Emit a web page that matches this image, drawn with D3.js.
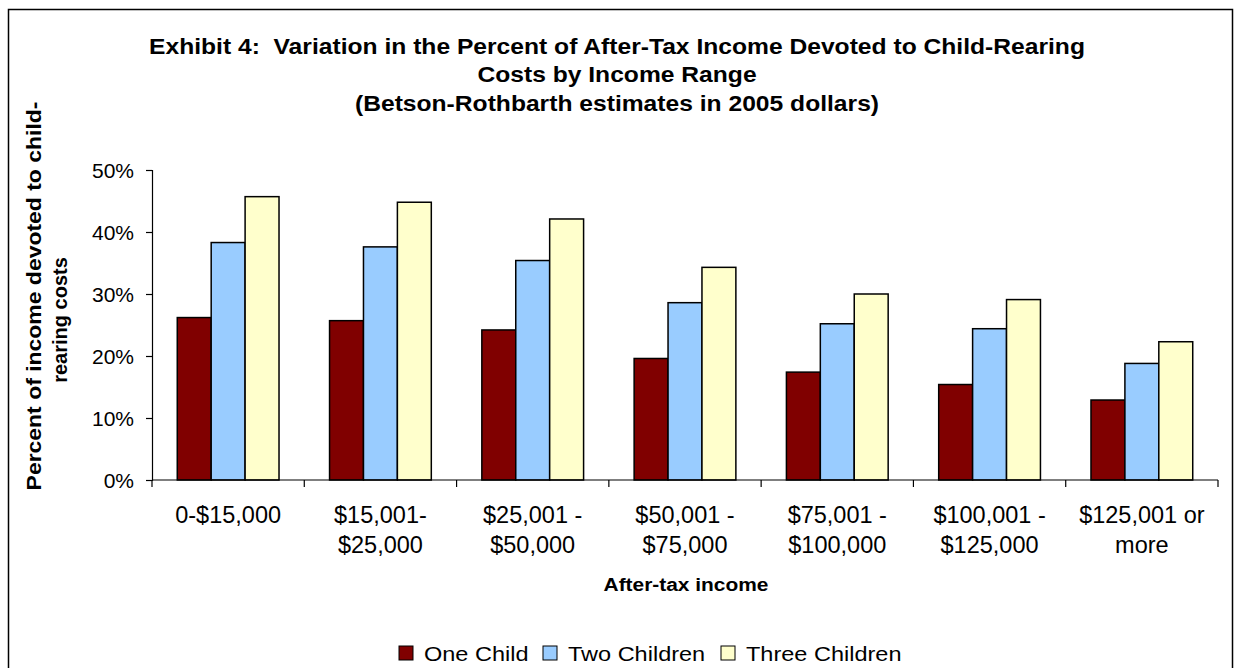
<!DOCTYPE html>
<html>
<head>
<meta charset="utf-8">
<script src="https://cdn.jsdelivr.net/npm/d3@7"></script>
<style>
  body { margin: 0; background: #fff; }
  text { font-family: Arial, "Liberation Sans", sans-serif; fill: #000; white-space: pre; }
</style>
</head>
<body>
<script>
// income ranges (line breaks as in the original axis)
var categories = [
  ["0-$15,000"],
  ["$15,001-", "$25,000"],
  ["$25,001 -", "$50,000"],
  ["$50,001 -", "$75,000"],
  ["$75,001 -", "$100,000"],
  ["$100,001 -", "$125,000"],
  ["$125,001 or", "more"]
];
var seriesNames = ["One Child", "Two Children", "Three Children"];
var seriesColors = ["#800000", "#99CCFF", "#FFFFCC"];

// percent of after-tax income
var oneChild = [26.2, 25.7, 24.2, 19.6, 17.4, 15.4, 12.9];
var twoChildren = [38.3, 37.6, 35.4, 28.6, 25.2, 24.4, 18.8];
var threeChildren = [45.7, 44.8, 42.1, 34.3, 30.0, 29.1, 22.3];
var yTicks = [0, 10, 20, 30, 40, 50];

var titleLines = [
  "Exhibit 4:  Variation in the Percent of After-Tax Income Devoted to Child-Rearing",
  "Costs by Income Range",
  "(Betson-Rothbarth estimates in 2005 dollars)"
];

var width = 1235;
var height = 668;
var margin = {top: 170, left: 152, right: 17, bottom: 188};

var svg = d3.select("body").append("svg")
    .attr("width", width)
    .attr("height", height);

// chart border
svg.append("rect")
    .attr("x", 8.5).attr("y", 9.5)
    .attr("width", 1224).attr("height", 670)
    .attr("fill", "white")
    .attr("stroke", "#000")
    .attr("stroke-width", 1.5);

// title (fonts in the original are a bit wider than Arial, so stretch)
var title = svg.append("g")
    .attr("transform", "translate(617,0) scale(1.12,1)")
    .append("text")
    .attr("text-anchor", "middle")
    .style("font-weight", "bold")
    .style("font-size", "22px");
titleLines.forEach(function(t, i) {
    title.append("tspan")
        .attr("x", 0)
        .attr("y", 54 + i * 28.5)
        .text(t);
});

var data = categories.map(function(c, i) {
    return {cat: i, values: [oneChild[i], twoChildren[i], threeChildren[i]]};
});

var x = d3.scaleBand()
    .domain(d3.range(categories.length))
    .range([margin.left, width - margin.right]);

var x1 = d3.scaleBand()
    .domain(d3.range(seriesNames.length))
    .range([0, x.bandwidth()])
    .paddingOuter(0.745)
    .paddingInner(0);

var y = d3.scaleLinear()
    .domain([0, 50])
    .range([height - margin.bottom, margin.top]);

// bars
var groups = svg.selectAll(".grp")
    .data(data)
    .enter().append("g")
    .attr("class", "grp")
    .attr("transform", function(d) { return "translate(" + x(d.cat) + ",0)"; });

groups.selectAll("rect")
    .data(function(d) { return d.values.map(function(v, j) { return {s: j, v: v}; }); })
    .enter().append("rect")
    .attr("x", function(d) { return x1(d.s); })
    .attr("y", function(d) { return y(d.v); })
    .attr("width", x1.bandwidth())
    .attr("height", function(d) { return y(0) - y(d.v); })
    .attr("fill", function(d) { return seriesColors[d.s]; })
    .attr("stroke", "#000")
    .attr("stroke-width", 1.5);

// y axis
var yAxis = svg.append("g")
    .attr("transform", "translate(" + margin.left + ",0)")
    .call(d3.axisLeft(y).tickValues(yTicks).tickSize(6).tickPadding(12)
        .tickFormat(function(d) { return d + "%"; }));
yAxis.select(".domain").attr("stroke", "#000").attr("stroke-width", 1.2);
yAxis.selectAll(".tick line").attr("stroke", "#000").attr("stroke-width", 1.2);
yAxis.selectAll("text").style("font-size", "21px").attr("dy", "0.35em");

// x axis: ticks between categories
var boundaries = d3.range(categories.length + 1).map(function(i) {
    return margin.left + i * x.bandwidth();
});
svg.append("line")
    .attr("x1", margin.left).attr("x2", width - margin.right)
    .attr("y1", y(0)).attr("y2", y(0))
    .attr("stroke", "#000").attr("stroke-width", 1.2);
svg.selectAll(".xtick")
    .data(boundaries)
    .enter().append("line")
    .attr("class", "xtick")
    .attr("x1", function(d) { return d; }).attr("x2", function(d) { return d; })
    .attr("y1", y(0)).attr("y2", y(0) + 7)
    .attr("stroke", "#000").attr("stroke-width", 1.2);

var xLabels = svg.selectAll(".xlab")
    .data(data)
    .enter().append("text")
    .attr("class", "xlab")
    .attr("text-anchor", "middle")
    .style("font-size", "23.5px");
xLabels.each(function(d) {
    var el = d3.select(this);
    categories[d.cat].forEach(function(line, k) {
        el.append("tspan")
            .attr("x", x(d.cat) + x.bandwidth() / 2)
            .attr("y", 523 + k * 30)
            .text(line);
    });
});

// axis titles
svg.append("text")
    .attr("transform", "translate(686,591) scale(1.1,1)")
    .attr("text-anchor", "middle")
    .style("font-weight", "bold")
    .style("font-size", "19px")
    .text("After-tax income");

svg.append("text")
    .attr("transform", "translate(41,296) rotate(-90) scale(1.12,1)")
    .attr("text-anchor", "middle")
    .style("font-weight", "bold")
    .style("font-size", "20.5px")
    .text("Percent of income devoted to child-");
svg.append("text")
    .attr("transform", "translate(67,320) rotate(-90)")
    .attr("text-anchor", "middle")
    .style("font-weight", "bold")
    .style("font-size", "20px")
    .text("rearing costs");

// legend
var legendX = [399, 543, 721];
var legend = svg.selectAll(".leg")
    .data(seriesNames)
    .enter().append("g")
    .attr("class", "leg")
    .attr("transform", function(d, i) { return "translate(" + legendX[i] + ",646)"; });
legend.append("rect")
    .attr("width", 14).attr("height", 14)
    .attr("fill", function(d, i) { return seriesColors[i]; })
    .attr("stroke", "#000").attr("stroke-width", 1);
legend.append("text")
    .attr("transform", "translate(25,15) scale(1.12,1)")
    .style("font-size", "21px")
    .text(function(d) { return d; });
</script>
</body>
</html>
